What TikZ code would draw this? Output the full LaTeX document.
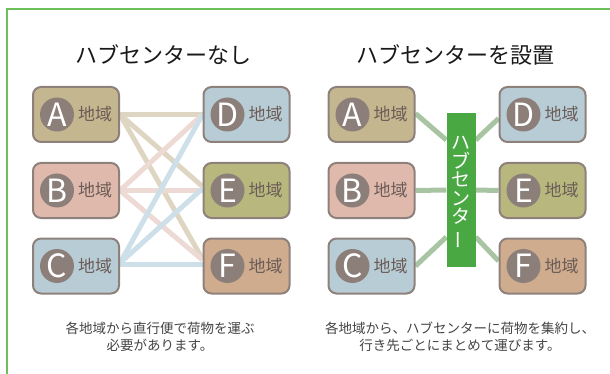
\documentclass[tikz,border=0pt]{standalone}
\usepackage{fontspec}
\setmainfont{Noto Sans CJK JP}
\usepackage{graphicx}
\usetikzlibrary{backgrounds}
\definecolor{frameg}{HTML}{6CC05C}
\definecolor{bord}{HTML}{8E817C}
\definecolor{circ}{HTML}{8C7E79}
\definecolor{txtb}{HTML}{6B5C57}
\definecolor{fA}{HTML}{C4B68E}
\definecolor{fB}{HTML}{E0B9AD}
\definecolor{fC}{HTML}{B8CCD6}
\definecolor{fE}{HTML}{B8B87E}
\definecolor{fF}{HTML}{CFAC8E}
\definecolor{lA}{HTML}{DED6C2}
\definecolor{lB}{HTML}{EEDAD4}
\definecolor{lC}{HTML}{CDE0EA}
\definecolor{lH}{HTML}{A8C4A2}
\definecolor{hub}{HTML}{4AA843}
\definecolor{capt}{HTML}{444444}
\tikzset{
  regbox/.style={draw=bord, line width=2pt, rounded corners=8pt, minimum width=86pt, minimum height=55pt, inner sep=0pt},
  regcirc/.style={circle, fill=circ, minimum size=34pt, inner sep=0pt, text=white, font=\fontsize{32}{32}\selectfont},
  regtxt/.style={text=txtb, font=\fontsize{17}{17}\selectfont, inner sep=0pt},
  ttl/.style={text=black!90, font=\fontsize{22}{26}\selectfont},
  captxt/.style={text=capt, font=\fontsize{13.5}{17}\selectfont, align=center},
  conA/.style={draw=lA, line width=5pt},
  conB/.style={draw=lB, line width=5pt},
  conC/.style={draw=lC, line width=5pt},
  conH/.style={draw=lH, line width=5pt},
  hubbox/.style={fill=hub, minimum width=29pt, minimum height=154pt, inner sep=0pt},
  hubtxt/.style={text=white, align=center, inner sep=0pt, font=\fontsize{19}{18.5}\selectfont},
}
\newcommand\regionnode[5]{%
  \node[regbox, fill=#5] (#1) at (#2,#3) {};
  \node[regcirc] (#1c) at ([xshift=-19pt]#1.center) {#4};
  \node[regtxt] (#1t) at ([xshift=19pt]#1.center) {地域};
}
\begin{document}
\begin{tikzpicture}[x=1pt,y=-1pt]
\useasboundingbox (0,0) rectangle (610,374);
\coordinate (fb) at (7,374);
\coordinate (ftl) at (7,9);
\coordinate (fr) at (610,9);
\draw[frameg, line width=1.5pt] (fb) -- (ftl) -- (fr);

\node[ttl] (t1) at (163,55) {ハブセンターなし};
\node[ttl] (t2) at (455,55) {ハブセンターを設置};

% ---------- left panel ----------
\regionnode{a1}{76}{114.5}{A}{fA}
\regionnode{b1}{76}{190.5}{B}{fB}
\regionnode{c1}{76}{266}{C}{fC}
\regionnode{d1}{246.5}{114.5}{D}{fC}
\regionnode{e1}{246.5}{190.5}{E}{fE}
\regionnode{f1}{246.5}{266}{F}{fF}

\begin{scope}[on background layer]
\draw[conA] (a1.east) -- (d1.west);
\draw[conA] (a1.east) -- ([yshift=4pt]e1.west);
\draw[conA] (a1.east) -- ([yshift=7pt]f1.west);
\draw[conB] (b1.east) -- (d1.west);
\draw[conB] (b1.east) -- (e1.west);
\draw[conB] (b1.east) -- ([yshift=6pt]f1.west);
\draw[conC] ([yshift=3pt]c1.east) -- (d1.west);
\draw[conC] ([yshift=3pt]c1.east) -- ([yshift=2pt]e1.west);
\draw[conC] ([yshift=2pt]c1.east) -- ([yshift=2pt]f1.west);
\end{scope}

% ---------- right panel ----------
\regionnode{a2}{371.5}{114.5}{A}{fA}
\regionnode{b2}{371.5}{190.5}{B}{fB}
\regionnode{c2}{371.5}{266}{C}{fC}
\regionnode{d2}{542.5}{114.5}{D}{fC}
\regionnode{e2}{542.5}{190.5}{E}{fE}
\regionnode{f2}{542.5}{266}{F}{fF}

\node[hubbox] (hub) at (461,190) {};
\node[hubtxt] (hubt) at (461,193) {ハ\\ブ\\セ\\ン\\タ\\[2pt]\rotatebox[origin=c]{90}{ー}};

\begin{scope}[on background layer]
\draw[conH] ([yshift=1pt]a2.east) -- ([yshift=50pt]hub.west);
\draw[conH] (b2.east) -- (hub.west);
\draw[conH] (c2.east) -- ([yshift=-47pt]hub.west);
\draw[conH] ([yshift=-4pt]d2.west) -- ([yshift=50pt]hub.east);
\draw[conH] (e2.west) -- (hub.east);
\draw[conH] ([yshift=5pt]f2.west) -- ([yshift=-47pt]hub.east);
\end{scope}

% ---------- captions ----------
\node[captxt] (c1cap) at (160,337) {各地域から直行便で荷物を運ぶ\\必要があります。};
\node[captxt] (c2cap) at (460,337) {各地域から、ハブセンターに荷物を集約し、\\行き先ごとにまとめて運びます。};
\end{tikzpicture}
\end{document}
